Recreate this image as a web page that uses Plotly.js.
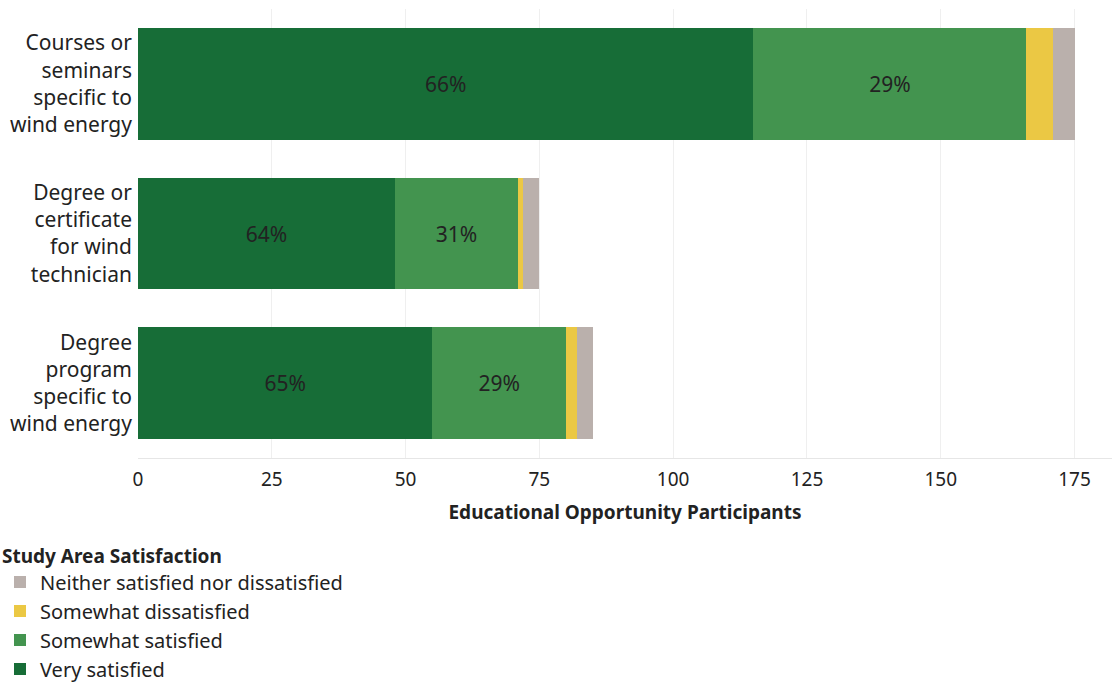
<!DOCTYPE html>
<html><head><meta charset="utf-8">
<script src="https://cdn.plot.ly/plotly-3.0.1.min.js"></script>
<style>body{margin:0;background:#fff}#chart{width:1114px;height:683px}</style>
</head><body><div id="chart"></div>
<script>
const categories = ["Courses or<br>seminars<br>specific to<br>wind energy", "Degree or<br>certificate<br>for wind<br>technician", "Degree<br>program<br>specific to<br>wind energy"];
const verySatisfied = [115, 48, 55];
const somewhatSatisfied = [51, 23, 25];
const somewhatDissatisfied = [5, 1, 2];
const neither = [4, 3, 3];
const seriesNames = ["Very satisfied", "Somewhat satisfied", "Somewhat dissatisfied", "Neither satisfied nor dissatisfied"];
const colors = ["#176d37", "#43944f", "#ebc844", "#bab0ac"];

const series = [verySatisfied, somewhatSatisfied, somewhatDissatisfied, neither];
const totals = categories.map((_, i) => series.reduce((s, a) => s + a[i], 0));
const font = "Noto Sans, Open Sans, sans-serif";

const traces = series.map((vals, k) => ({
  type: "bar", orientation: "h", name: seriesNames[k],
  y: categories, x: vals,
  marker: {color: colors[k]},
  text: k < 2 ? vals.map((v, i) => Math.round(100 * v / totals[i]) + "%") : vals.map(() => ""),
  textposition: k < 2 ? "inside" : "none",
  insidetextanchor: "middle",
  textfont: {family: font, size: 21, color: "#222"},
  hoverinfo: "x+name"
}));

Plotly.newPlot("chart", traces, {
  width: 1114, height: 683,
  barmode: "stack", bargap: 0.253,
  margin: {l: 138, r: 2, t: 9, b: 225, autoexpand: false},
  paper_bgcolor: "#fff", plot_bgcolor: "#fff",
  font: {family: font, color: "#222"},
  xaxis: {
    range: [0, 182], tickvals: [0, 25, 50, 75, 100, 125, 150, 175],
    showgrid: true, gridcolor: "#efefef", zeroline: false,
    showline: true, linecolor: "#e6e6e6",
    tickfont: {size: 19, color: "#222"}, ticks: "", ticklen: 0, ticklabelstandoff: 4,
    title: {text: "<b>Educational Opportunity Participants</b>", font: {size: 19, color: "#222"}, standoff: 14}
  },
  yaxis: {
    autorange: "reversed", showgrid: false, zeroline: false, showline: false,
    tickfont: {size: 21, color: "#222"}, ticks: "", ticklen: 0, ticklabelstandoff: 5
  },
  showlegend: true,
  legend: {
    xref: "container", yref: "container", x: 0, y: 0.2125, xanchor: "left", yanchor: "top",
    traceorder: "reversed", tracegroupgap: 0, itemwidth: 30,
    title: {text: "<b>Study Area Satisfaction</b>", font: {size: 19, color: "#222"}, side: "top"},
    font: {size: 20, color: "#222"}, bgcolor: "rgba(0,0,0,0)"
  }
}, {displayModeBar: false});
</script></body></html>
